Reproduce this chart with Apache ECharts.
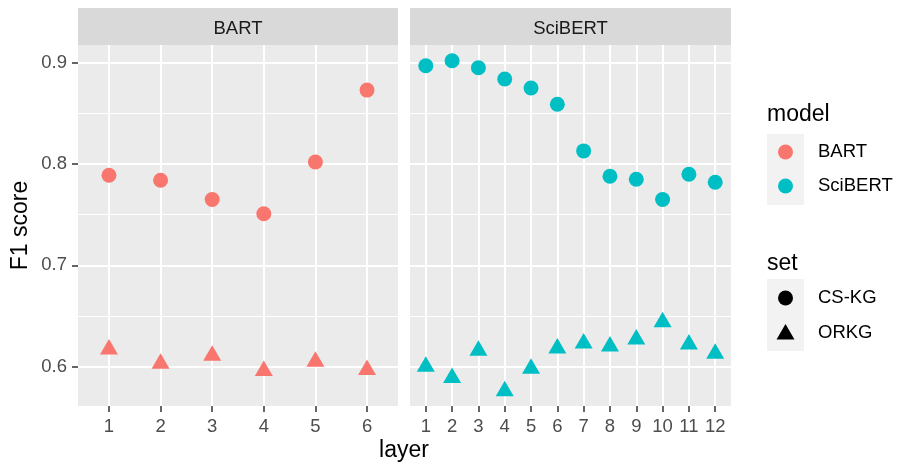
<!DOCTYPE html>
<html>
<head>
<meta charset="utf-8">
<script src="https://cdn.jsdelivr.net/npm/echarts@6/dist/echarts.min.js"></script>
<style>
html,body{margin:0;padding:0;background:#fff;}
#main{width:899px;height:466px;}
</style>
</head>
<body>
<div id="main"></div>
<script>
// ---- data ----
const panels = ['BART', 'SciBERT'];
const bartLayers = [1, 2, 3, 4, 5, 6];
const scibertLayers = [1, 2, 3, 4, 5, 6, 7, 8, 9, 10, 11, 12];
const bartCSKG = [0.789, 0.784, 0.765, 0.751, 0.802, 0.873];
const bartORKG = [0.617, 0.603, 0.611, 0.596, 0.605, 0.597];
const scibertCSKG = [0.897, 0.902, 0.895, 0.884, 0.875, 0.859, 0.813, 0.788, 0.785, 0.765, 0.790, 0.782];
const scibertORKG = [0.600, 0.589, 0.616, 0.576, 0.598, 0.618, 0.623, 0.620, 0.627, 0.644, 0.622, 0.613];
const yTicks = [0.6, 0.7, 0.8, 0.9];
const yMinor = [0.65, 0.75, 0.85];
const modelNames = ['BART', 'SciBERT'];
const setNames = ['CS-KG', 'ORKG'];

const FONT = 'Liberation Sans, Arial, sans-serif';
const colors = { BART: '#F8766D', SciBERT: '#00BFC4' };
const Y_MIN = 0.5612, Y_MAX = 0.9175;
const PANEL_TOP = 45, PANEL_H = 361;
const grids = [
  { left: 78, top: PANEL_TOP, width: 320, height: PANEL_H },
  { left: 410, top: PANEL_TOP, width: 321, height: PANEL_H }
];
const TRI = [18, 15.5];
const TRI_OFF = [0, -2.6];
const CIRC = 15;

function pairs(xs, ys) { return xs.map((x, i) => [x, ys[i]]); }

const chart = echarts.init(document.getElementById('main'), null, { renderer: 'canvas' });

const xAxes = [], yAxes = [], gridOpts = [];
const layerSets = [bartLayers, scibertLayers];
grids.forEach((g, i) => {
  gridOpts.push(Object.assign({ show: true, backgroundColor: '#EBEBEB', borderWidth: 0, containLabel: false }, g));
  const L = layerSets[i];
  xAxes.push({
    type: 'value', gridIndex: i, min: 0.4, max: L.length + 0.6,
    axisLine: { show: false },
    axisTick: { show: true, length: 6, lineStyle: { color: '#333333', width: 1.5 }, customValues: L },
    axisLabel: { show: true, margin: 11, color: '#4D4D4D', fontSize: 18.5, fontFamily: FONT, customValues: L },
    splitLine: { show: true, lineStyle: { color: '#FFFFFF', width: 2 } }
  });
  yAxes.push({
    type: 'value', gridIndex: i, min: Y_MIN, max: Y_MAX,
    axisLine: { show: false },
    axisTick: { show: i === 0, length: 6, lineStyle: { color: '#333333', width: 1.5 }, customValues: yTicks },
    axisLabel: { show: i === 0, margin: 11, color: '#4D4D4D', fontSize: 18.5, fontFamily: FONT, customValues: yTicks,
      formatter: v => v.toFixed(1) },
    splitLine: { show: true, lineStyle: { color: '#FFFFFF', width: 2 } }
  });
});

const series = [];
// minor horizontal gridlines (one carrier series per panel), kept below the points
grids.forEach((g, i) => {
  series.push({
    name: 'minor' + i, type: 'line', xAxisIndex: i, yAxisIndex: i, z: 0, zlevel: 0, silent: true,
    data: [], symbol: 'none', lineStyle: { opacity: 0 },
    markLine: {
      z: 0, silent: true, symbol: ['none', 'none'], label: { show: false }, animation: false,
      lineStyle: { color: '#FFFFFF', width: 1, type: 'solid' },
      data: yMinor.map(v => ({ yAxis: v }))
    }
  });
});
series.push(
  { name: 'BART CS-KG', type: 'scatter', z: 6, xAxisIndex: 0, yAxisIndex: 0, data: pairs(bartLayers, bartCSKG),
    symbol: 'circle', symbolSize: CIRC, itemStyle: { color: colors.BART, opacity: 1 } },
  { name: 'BART ORKG', type: 'scatter', z: 6, xAxisIndex: 0, yAxisIndex: 0, data: pairs(bartLayers, bartORKG),
    symbol: 'triangle', symbolSize: TRI, symbolOffset: TRI_OFF, itemStyle: { color: colors.BART, opacity: 1 } },
  { name: 'SciBERT CS-KG', type: 'scatter', z: 6, xAxisIndex: 1, yAxisIndex: 1, data: pairs(scibertLayers, scibertCSKG),
    symbol: 'circle', symbolSize: CIRC, itemStyle: { color: colors.SciBERT, opacity: 1 } },
  { name: 'SciBERT ORKG', type: 'scatter', z: 6, xAxisIndex: 1, yAxisIndex: 1, data: pairs(scibertLayers, scibertORKG),
    symbol: 'triangle', symbolSize: TRI, symbolOffset: TRI_OFF, itemStyle: { color: colors.SciBERT, opacity: 1 } }
);

const graphic = [];
// strips
grids.forEach((g, i) => {
  graphic.push({ type: 'rect', shape: { x: g.left, y: 8, width: g.width, height: PANEL_TOP - 8 }, style: { fill: '#D9D9D9' }, silent: true });
  graphic.push({ type: 'text', x: g.left + g.width / 2, y: 29, style: { text: panels[i], fill: '#1A1A1A', font: '18.5px ' + FONT, align: 'center', verticalAlign: 'middle' }, silent: true });
});
// axis titles
graphic.push({ type: 'text', x: 404, y: 451, style: { text: 'layer', fill: '#000', font: '23px ' + FONT, align: 'center', verticalAlign: 'middle' } });
graphic.push({ type: 'text', x: 21, y: 225.5, rotation: Math.PI / 2, style: { text: 'F1 score', fill: '#000', font: '23px ' + FONT, align: 'center', verticalAlign: 'middle' } });
// legend: model
graphic.push({ type: 'text', x: 767, y: 115, style: { text: 'model', fill: '#000', font: '23px ' + FONT, align: 'left', verticalAlign: 'middle' } });
graphic.push({ type: 'rect', shape: { x: 767, y: 134, width: 37, height: 71 }, style: { fill: '#F2F2F2' } });
modelNames.forEach((m, k) => {
  const cy = 152 + k * 34;
  graphic.push({ type: 'circle', shape: { cx: 785.5, cy: cy, r: 7.5 }, style: { fill: colors[m] } });
  graphic.push({ type: 'text', x: 818, y: cy, style: { text: m, fill: '#000', font: '18.5px ' + FONT, align: 'left', verticalAlign: 'middle' } });
});
// legend: set
graphic.push({ type: 'text', x: 767, y: 264, style: { text: 'set', fill: '#000', font: '23px ' + FONT, align: 'left', verticalAlign: 'middle' } });
graphic.push({ type: 'rect', shape: { x: 767, y: 279, width: 37, height: 72 }, style: { fill: '#F2F2F2' } });
graphic.push({ type: 'circle', shape: { cx: 785.5, cy: 298, r: 7.5 }, style: { fill: '#000' } });
graphic.push({ type: 'polygon', shape: { points: [[785.5, 324], [794.5, 339.5], [776.5, 339.5]] }, style: { fill: '#000' } });
setNames.forEach((s, k) => {
  graphic.push({ type: 'text', x: 818, y: 298 + k * 35, style: { text: s, fill: '#000', font: '18.5px ' + FONT, align: 'left', verticalAlign: 'middle' } });
});

chart.setOption({
  animation: false,
  backgroundColor: '#FFFFFF',
  grid: gridOpts,
  xAxis: xAxes,
  yAxis: yAxes,
  series: series,
  graphic: graphic
});
</script>
</body>
</html>
